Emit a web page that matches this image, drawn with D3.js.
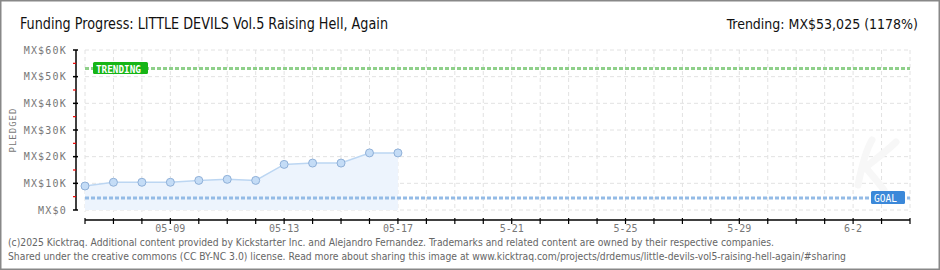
<!DOCTYPE html>
<html><head><meta charset="utf-8">
<script src="https://cdn.jsdelivr.net/npm/d3@7"></script>
<style>
html,body{margin:0;padding:0;background:#fff;}
svg{display:block;}
</style></head>
<body>
<svg id="c" width="940" height="270"></svg>
<script>
const dates = ["2025-05-06","2025-05-07","2025-05-08","2025-05-09","2025-05-10","2025-05-11","2025-05-12","2025-05-13","2025-05-14","2025-05-15","2025-05-16","2025-05-17"];
const pledged = [9000,10400,10400,10400,11100,11500,11100,17100,17600,17600,21400,21400];
const goal = 4500;
const trending = 53025;
const yTicks = [0,10000,20000,30000,40000,50000,60000];
const xLabelDates = ["2025-05-09","2025-05-13","2025-05-17","2025-05-21","2025-05-25","2025-05-29","2025-06-02"];
const xLabels = ["05-09","05-13","05-17","5-21","5-25","5-29","6-2"];
const domainStart = "2025-05-06", domainEnd = "2025-06-04";

const svg = d3.select("#c");
const W=940,H=270;
svg.append("rect").attr("x",0.5).attr("y",0.5).attr("width",W-1).attr("height",H-1).attr("fill","#fff").attr("stroke","#888").attr("stroke-width",2);

const x = d3.scaleUtc().domain([new Date(domainStart), new Date(domainEnd)]).range([85,910]);
const y = d3.scaleLinear().domain([0,60000]).range([210,50]);
const pix = "'DejaVu Sans Mono', monospace";
const nar = "'Liberation Sans Narrow','DejaVu Sans Condensed',sans-serif";

// title
svg.append("text").attr("x",20).attr("y",29).attr("font-family",nar).attr("font-size",16).attr("fill","#111")
  .attr("textLength",368).attr("lengthAdjust","spacingAndGlyphs").text("Funding Progress: LITTLE DEVILS Vol.5 Raising Hell, Again");
svg.append("text").attr("x",918).attr("y",29).attr("text-anchor","end").attr("font-family",nar).attr("font-size",14).attr("fill","#111")
  .text("Trending:  MX$53,025 (1178%)");

// grid
const days = d3.utcDay.range(new Date(domainStart), d3.utcDay.offset(new Date(domainEnd),1));
const g = svg.append("g");
g.selectAll("line.v").data(days).join("line").attr("x1",d=>x(d)).attr("x2",d=>x(d)).attr("y1",50).attr("y2",212)
  .attr("stroke","#e2e2e2").attr("stroke-dasharray","4,3");
g.selectAll("line.h").data(yTicks).join("line").attr("x1",85).attr("x2",910).attr("y1",d=>y(d)).attr("y2",d=>y(d))
  .attr("stroke","#e2e2e2").attr("stroke-dasharray","4,3");

// watermark (faint brush shape)
svg.append("path").attr("d","M858,185 C862,165 866,150 872,140 M862,170 C875,160 888,150 896,142 M866,168 C872,175 878,182 884,190")
  .attr("fill","none").attr("stroke","#f7f7f7").attr("stroke-width",7).attr("stroke-linecap","round");

const data = dates.map((d,i)=>({d:new Date(d),v:pledged[i]}));
// area
svg.append("path").datum(data).attr("fill","#edf4fd")
  .attr("d",d3.area().x(d=>x(d.d)).y0(y(0)).y1(d=>y(d.v)));
svg.append("path").datum(data).attr("fill","none").attr("stroke","#bcd6f2").attr("stroke-width",1.5)
  .attr("d",d3.line().x(d=>x(d.d)).y(d=>y(d.v)));

// goal & trending lines
svg.append("line").attr("x1",85).attr("x2",910).attr("y1",y(goal)).attr("y2",y(goal)).attr("stroke","#94bbe6").attr("stroke-width",3).attr("stroke-dasharray","4,2");
svg.append("line").attr("x1",85).attr("x2",910).attr("y1",y(trending)).attr("y2",y(trending)).attr("stroke","#8fd08a").attr("stroke-width",3).attr("stroke-dasharray","4,2");

// points
svg.selectAll("circle").data(data).join("circle").attr("cx",d=>x(d.d)).attr("cy",d=>y(d.v)).attr("r",4)
  .attr("fill","#c4dcf6").attr("stroke","#8fb0d8").attr("stroke-width",1);

// labels on lines
const tg = svg.append("g");
tg.append("rect").attr("x",93).attr("y",62).attr("width",55).attr("height",12).attr("rx",1.5).attr("fill","#16b516");
tg.append("text").attr("x",96).attr("y",y(trending)+4).attr("font-family",pix).attr("font-size",10).attr("font-weight","bold").attr("fill","#fff")
  .attr("textLength",45).attr("lengthAdjust","spacingAndGlyphs").text("TRENDING");
const gg = svg.append("g");
gg.append("rect").attr("x",871).attr("y",y(goal)-7).attr("width",34).attr("height",13).attr("rx",1.5).attr("fill","#3b88d9");
gg.append("text").attr("x",874).attr("y",y(goal)+3.5).attr("font-family",pix).attr("font-size",10).attr("fill","#fff")
  .attr("textLength",23).attr("lengthAdjust","spacingAndGlyphs").text("GOAL");

// y axis
svg.append("line").attr("x1",76).attr("x2",76).attr("y1",50).attr("y2",210).attr("stroke","#000").attr("stroke-width",1.5);
svg.selectAll("line.ymaj").data(yTicks).join("line").attr("x1",73).attr("x2",78).attr("y1",d=>y(d)).attr("y2",d=>y(d)).attr("stroke","#000").attr("stroke-width",1.5);
const minor = d3.range(5000,60000,10000);
svg.selectAll("line.ymin").data(minor).join("line").attr("x1",73).attr("x2",76).attr("y1",d=>y(d)).attr("y2",d=>y(d)).attr("stroke","#e00").attr("stroke-width",1.2);
svg.selectAll("text.yl").data(yTicks).join("text").attr("x",67).attr("y",d=>y(d)+3.5).attr("text-anchor","end")
  .attr("font-family",pix).attr("font-size",10).attr("letter-spacing",1.2).attr("fill","#777").text(d=>"MX$"+(d===0?"0":d/1000+"K"));
svg.append("text").attr("transform","translate(16,130) rotate(-90)").attr("text-anchor","middle").attr("font-family",pix).attr("font-size",9).attr("fill","#777").attr("letter-spacing",1).text("PLEDGED");

// x axis
svg.append("line").attr("x1",85).attr("x2",910).attr("y1",220).attr("y2",220).attr("stroke","#000").attr("stroke-width",1.5);
svg.selectAll("line.xt").data(days).join("line").attr("x1",d=>x(d)).attr("x2",d=>x(d)).attr("y1",218).attr("y2",224).attr("stroke","#000").attr("stroke-width",1.2);
svg.selectAll("text.xl").data(xLabelDates).join("text").attr("x",d=>x(new Date(d))).attr("y",232).attr("text-anchor","middle")
  .attr("font-family",pix).attr("font-size",10).attr("fill","#777").text((d,i)=>xLabels[i]);

// footer
svg.append("text").attr("x",8).attr("y",246).attr("font-family",nar).attr("font-size",10.5).attr("fill","#666")
  .attr("textLength",766).attr("lengthAdjust","spacingAndGlyphs").text("(c)2025 Kicktraq. Additional content provided by Kickstarter Inc. and Alejandro Fernandez. Trademarks and related content are owned by their respective companies.");
svg.append("text").attr("x",8).attr("y",260).attr("font-family",nar).attr("font-size",10.5).attr("fill","#666")
  .attr("textLength",838).attr("lengthAdjust","spacingAndGlyphs").text("Shared under the creative commons (CC BY-NC 3.0) license. Read more about sharing this image at www.kicktraq.com/projects/drdemus/little-devils-vol5-raising-hell-again/#sharing");
</script>
</body></html>
